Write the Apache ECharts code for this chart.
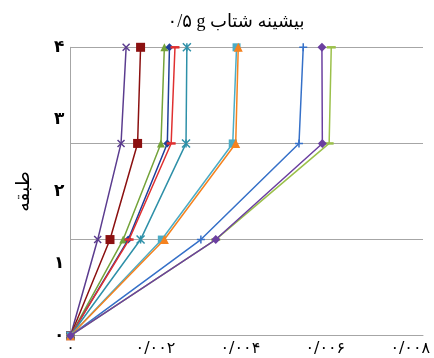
<!DOCTYPE html>
<html>
<head>
<meta charset="utf-8">
<script src="https://cdn.jsdelivr.net/npm/echarts@6/dist/echarts.min.js"></script>
<style>html,body{margin:0;padding:0;background:#fff}#c{width:434px;height:358px}</style>
</head>
<body>
<div id="c"></div>
<script>
// floors (data level) and tick labels
var floors = [0, 1, 2, 3];
var yTickLabels = ['۰', '۱', '۲', '۳', '۴'];
var xTickLabels = ['۰', '۰/۰۰۲', '۰/۰۰۴', '۰/۰۰۶', '۰/۰۰۸'];
var titleText = '۰/۵ g بیشینه شتاب';
var yName = 'طبقه';

// series drift values at floors 0..3
var s1 = [0, 0.00064, 0.00119, 0.00131];
var s2 = [0, 0.00093, 0.00158, 0.00165];
var s3 = [0, 0.00124, 0.00213, 0.00221];
var s4 = [0, 0.00136, 0.00228, 0.00233];
var s5 = [0, 0.00138, 0.00237, 0.00246];
var s6 = [0, 0.00165, 0.00272, 0.00274];
var s7 = [0, 0.00215, 0.00382, 0.00391];
var s8 = [0, 0.00221, 0.00389, 0.00395];
var s9 = [0, 0.00307, 0.00538, 0.00548];
var s10 = [0, 0.00342, 0.00593, 0.00592];
var s11 = [0, 0.00342, 0.00609, 0.00614];

var seriesValues = [s1, s2, s3, s4, s5, s6, s7, s8, s9, s10, s11];
var colors = ['#5B3C8F', '#8B1010', '#74A33A', '#1F3F99', '#E03030', '#2E90A8', '#4BACC6', '#F5821F', '#3570C8', '#6B3FA0', '#9BC04A'];
var CROSS = 'path://M0,0L10,10M10,0L0,10';
var STAR = 'path://M5,0L5,10M0,0L10,10M10,0L0,10';
var PLUS = 'path://M5,0L5,10M0,5L10,5';
var symbols = [CROSS, 'rect', 'triangle', 'diamond', 'rect', STAR, 'rect', 'triangle', PLUS, 'diamond', 'rect'];
var sizes = [7, 9, 8, 8, [9, 2.5], 8, 8, 9, 8, 9, [9, 2.5]];
var stroked = [true, false, false, false, false, true, false, false, true, false, false];
var zOrder = [2, 3, 4, 5, 6, 7, 8, 9, 10, 12, 11];

var series = seriesValues.map(function (vals, i) {
  return {
    type: 'line',
    yAxisIndex: 1,
    data: vals.map(function (v, k) { return [v, floors[k]]; }),
    symbol: symbols[i],
    symbolSize: sizes[i],
    showSymbol: true,
    lineStyle: { color: colors[i], width: 1.5 },
    itemStyle: stroked[i] ? { color: colors[i], borderColor: colors[i], borderWidth: 1.5 } : { color: colors[i], borderWidth: 0 },
    animation: false,
    z: zOrder[i]
  };
});

var chart = echarts.init(document.getElementById('c'), null, { renderer: 'canvas' });
chart.setOption({
  animation: false,
  title: {
    text: titleText,
    left: 231,
    top: 8,
    textAlign: 'center',
    textStyle: { fontFamily: '"Liberation Serif", "DejaVu Sans"', fontSize: 18, fontWeight: 'normal', color: '#000' }
  },
  grid: { left: 70.5, right: 11, top: 47.3, bottom: 22.3, containLabel: false },
  xAxis: {
    type: 'value',
    min: 0,
    max: 0.0083,
    interval: 0.002,
    axisLine: { show: true, lineStyle: { color: '#A6A6A6', width: 1 } },
    axisTick: { show: false },
    splitLine: { show: false },
    axisLabel: {
      showMaxLabel: false,
      margin: 5,
      fontFamily: '"DejaVu Sans"',
      fontSize: 16,
      color: '#000',
      formatter: function (v) {
        var k = Math.round(v / 0.002);
        if (Math.abs(v - k * 0.002) > 1e-9) return '';
        return xTickLabels[k] || '';
      }
    }
  },
  yAxis: [{
    type: 'value',
    min: 0,
    max: 4,
    interval: 1,
    name: yName,
    nameLocation: 'middle',
    nameRotate: 90,
    nameGap: 37,
    nameTextStyle: { fontFamily: '"DejaVu Sans"', fontSize: 19, color: '#000' },
    axisLine: { show: true, lineStyle: { color: '#A6A6A6', width: 1 } },
    axisTick: { show: false },
    splitLine: { show: false },
    axisLabel: {
      margin: 6,
      fontFamily: '"DejaVu Sans"',
      fontSize: 17,
      fontWeight: 'bold',
      color: '#000',
      formatter: function (v) { return yTickLabels[Math.round(v)]; }
    }
  }, {
    type: 'value',
    min: 0,
    max: 3,
    interval: 1,
    position: 'left',
    axisLine: { show: false },
    axisTick: { show: false },
    axisLabel: { show: false },
    splitLine: { show: true, lineStyle: { color: '#A6A6A6', width: 1 } }
  }],
  series: series
});
</script>
</body>
</html>
